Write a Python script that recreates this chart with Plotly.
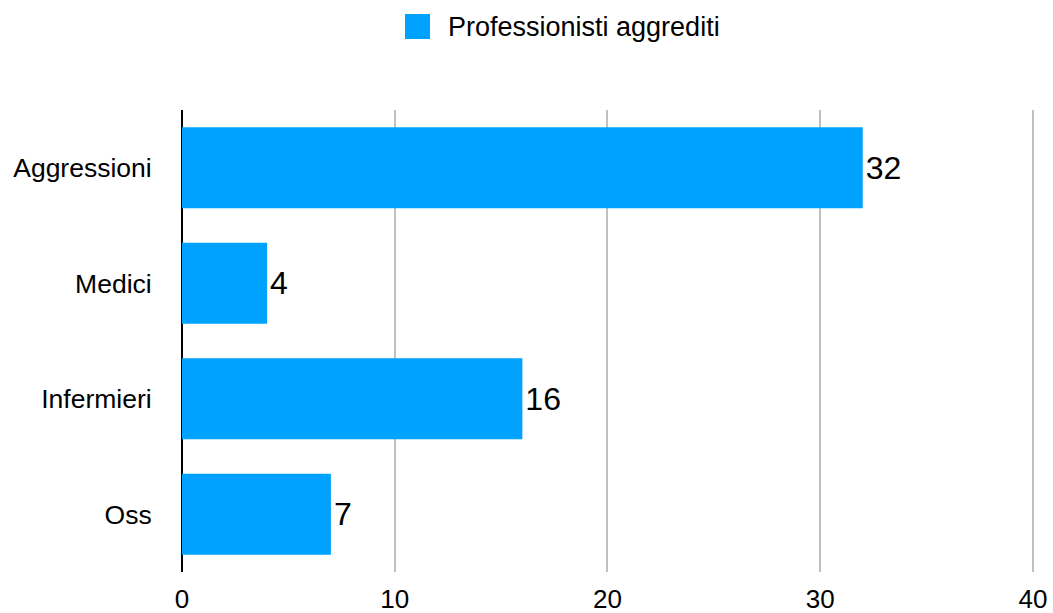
import plotly.graph_objects as go

categories = ["Aggressioni", "Medici", "Infermieri", "Oss"]
values = [32, 4, 16, 7]
series_name = "Professionisti aggrediti"
x_ticks = [0, 10, 20, 30, 40]

FONT = "Liberation Sans, Helvetica, Arial, sans-serif"
BLUE = "#00A2FF"

fig = go.Figure()
fig.add_trace(go.Bar(
    y=categories, x=values, orientation="h", name=series_name,
    marker=dict(color=BLUE, line=dict(width=0)),
    text=[str(v) for v in values], textposition="outside",
    textfont=dict(size=32, color="black", family=FONT),
    cliponaxis=False, showlegend=False,
))

fig.update_layout(
    width=1053, height=613,
    margin=dict(l=182, r=19, t=110, b=41),
    paper_bgcolor="white", plot_bgcolor="white",
    bargap=0.3,
    font=dict(family=FONT, color="black"),
    showlegend=False,
    xaxis=dict(
        range=[0, 40.05], tickvals=x_ticks, ticktext=[str(t) for t in x_ticks],
        showgrid=True, gridcolor="#c0c0c0", gridwidth=2,
        zeroline=True, zerolinecolor="black", zerolinewidth=2,
        tickfont=dict(size=26, family=FONT, color="black"),
        ticks="", ticklabelstandoff=9,
        showline=False, fixedrange=True, automargin=False,
    ),
    yaxis=dict(
        categoryorder="array", categoryarray=categories,
        autorange="reversed",
        tickfont=dict(size=26.5, family=FONT, color="black"),
        ticks="outside", ticklen=24, tickcolor="rgba(0,0,0,0)",
        showgrid=False, zeroline=False, showline=False, automargin=False,
    ),
    shapes=[dict(type="rect", xref="paper", yref="paper",
                 x0=(405 - 182) / 852, x1=(430 - 182) / 852,
                 y0=(613 - 41 - 39) / 462, y1=(613 - 41 - 14) / 462,
                 fillcolor=BLUE, line=dict(width=0))],
    annotations=[dict(text=series_name, xref="paper", yref="paper",
                      x=(446 - 182) / 852, y=(613 - 41 - 27) / 462,
                      xanchor="left", yanchor="middle", showarrow=False,
                      font=dict(size=27, family=FONT, color="black"))],
)

fig.write_html("out.html")
